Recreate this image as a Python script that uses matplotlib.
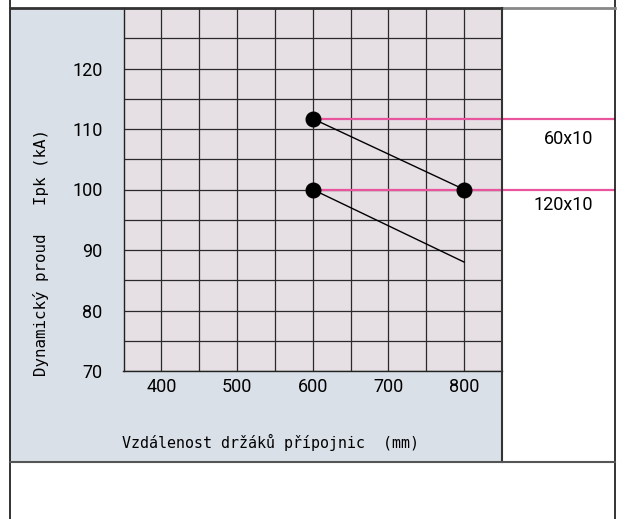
import matplotlib
matplotlib.use("Agg")
import matplotlib.pyplot as plt
from matplotlib.lines import Line2D
from matplotlib.patches import Rectangle

# ---- data ----
x_ticks = [400, 500, 600, 700, 800]
y_ticks = [70, 80, 90, 100, 110, 120]
series_names = ["60x10", "120x10"]
s60_x = [600, 800]
s60_y = [111.7, 100]
s120_x = [600, 800]
s120_y = [100, 88]
x_label = "Vzdálenost držáků přípojnic  (mm)"
y_label = "Dynamický proud   Ipk (kA)"

W, H = 633, 519
fig = plt.figure(figsize=(W / 100, H / 100), dpi=100)
fig.patch.set_facecolor("white")

def fx(px):
    return px / W

def fy(py):
    return 1 - py / H

# blue panel
fig.add_artist(Rectangle((fx(10), fy(461.5)), fx(502) - fx(10), fy(8) - fy(461.5),
                         transform=fig.transFigure, facecolor="#d9e0e8", edgecolor="none", zorder=0))

ax_l, ax_r, ax_t, ax_b = 123.5, 502, 8, 371
ax = fig.add_axes([fx(ax_l), fy(ax_b), fx(ax_r) - fx(ax_l), fy(ax_t) - fy(ax_b)])
ax.set_facecolor("#e6dfe4")
ax.set_xlim(350, 850)
ax.set_ylim(70, 130)
ax.grid(True, color="#2a2a2a", linewidth=0.9)
ax.set_axisbelow(True)
ax.tick_params(length=0)

narrow = ["Roboto", "DejaVu Sans"]
nsize = 13
ax.set_xticks(range(350, 851, 50))
ax.set_yticks(range(70, 131, 5))
ax.set_xticklabels([str(v) if v in x_ticks else "" for v in range(350, 851, 50)],
                   fontfamily=narrow, fontsize=nsize)
ax.set_yticklabels([str(v) if v in y_ticks else "" for v in range(70, 131, 5)],
                   fontfamily=narrow, fontsize=nsize)
ax.tick_params(axis="y", pad=15)
ax.tick_params(axis="x", pad=5)
for s in ["left", "bottom"]:
    ax.spines[s].set_color("#222222")
    ax.spines[s].set_linewidth(1.0)
ax.spines["top"].set_visible(False)
ax.spines["right"].set_visible(False)

# right-edge point for pink leader lines (figure border at x=614px)
fig.canvas.draw()
inv = ax.transData.inverted()
x_border = inv.transform(fig.transFigure.transform((fx(614), 0.5)))[0]

pink = "#e8559c"
for xs, ys in [(s60_x, s60_y), (s120_x, s120_y)]:
    ax.plot(xs, ys, color="black", linewidth=1.0, zorder=3)
    ax.plot([xs[0], x_border], [ys[0], ys[0]], color=pink, linewidth=1.6,
            clip_on=False, zorder=4)
ax.plot([s60_x[0], s60_x[1], s120_x[0]], [s60_y[0], s60_y[1], s120_y[0]],
        linestyle="none", marker="o", markersize=10.5, color="black", zorder=5)

# series labels
lab_x = inv.transform(fig.transFigure.transform((fx(593), 0.5)))[0]
ax.text(lab_x, s60_y[0] - 3.3, series_names[0], fontfamily=narrow, fontsize=nsize,
        ha="right", va="center", clip_on=False)
ax.text(lab_x, s60_y[1] - 2.6, series_names[1], fontfamily=narrow, fontsize=nsize,
        ha="right", va="center", clip_on=False)

# axis labels
mono = ["DejaVu Sans Mono", "DejaVu Sans"]
fig.text(fx(270), fy(442), x_label, fontfamily=mono, fontsize=10.8, ha="center", va="center")
fig.text(fx(41), fy(253), y_label, fontfamily=mono, fontsize=11.4, ha="center", va="center",
         rotation=90)

# frame lines
def fl(x0, y0, x1, y1, c, lw):
    fig.add_artist(Line2D([fx(x0), fx(x1)], [fy(y0), fy(y1)], transform=fig.transFigure,
                          color=c, linewidth=lw, zorder=10))

fl(10, 0, 10, 519, "#111111", 1.2)
fl(614.5, 0, 614.5, 519, "#111111", 1.2)
fl(10, 7.5, 502, 7.5, "#333333", 2.0)
fl(502, 7.5, 614.5, 7.5, "#888888", 2.0)
fl(502, 7.5, 502, 461.5, "#333333", 1.5)
fl(10, 461.5, 614.5, 461.5, "#555555", 1.5)

fig.savefig("out.png", dpi=100)
